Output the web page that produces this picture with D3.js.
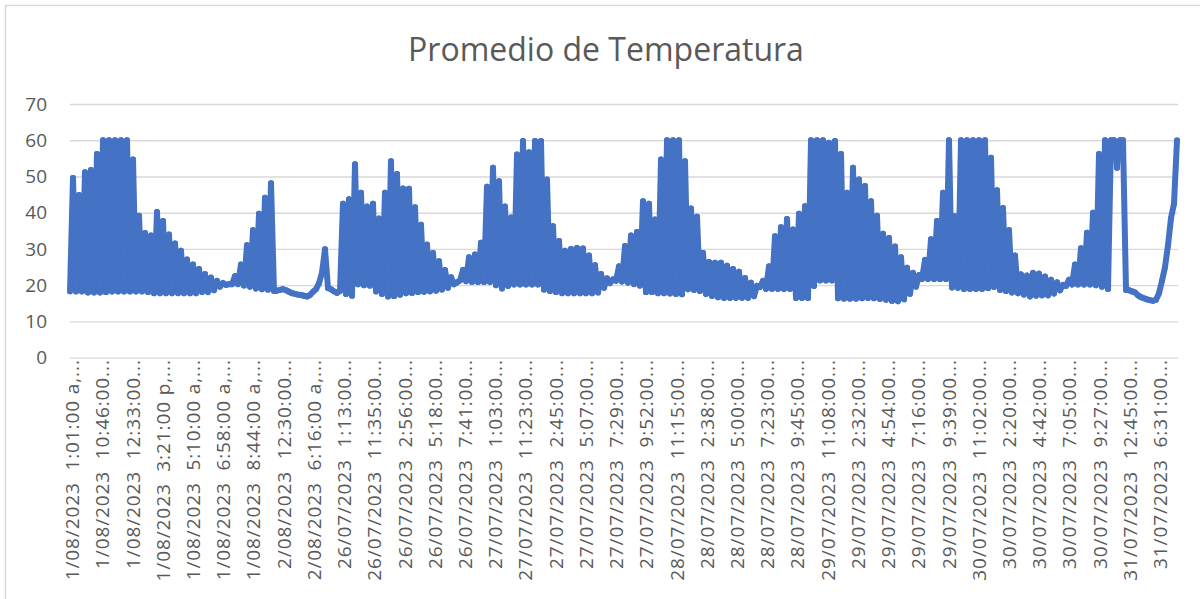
<!DOCTYPE html>
<html>
<head>
<meta charset="utf-8">
<script src="https://cdn.jsdelivr.net/npm/d3@7"></script>
<style>
  body { margin: 0; background: #fff; }
  text { font-family: 'Open Sans', sans-serif; fill: #595959; }
</style>
</head>
<body>
<div id="plot"></div>
<script>
    // Readings come in pairs: the category text sort puts a.m./p.m. rows next to each other,
    // so the series jumps between the two on every step
    const tempA = [
        18.3, 18.3, 18.3, 18.0, 18.0, 18.0, 18.1, 18.3, 18.3, 18.3,
        18.3, 18.3, 18.3, 18.1, 17.8, 17.8, 17.8, 17.8, 17.8, 17.8,
        17.8, 17.8, 18.1, 18.1, 18.6, 19.6, 20.1, 20.3, 20.3, 19.9,
        19.6, 19.1, 18.9, 18.8, 18.4, 18.7, 18.6, 17.8, 17.4, 17.1,
        17.3, 18.9, 23.5, 19.2, 18.3, 18.4, 17.6, 17.1, 20.3, 20.0,
        19.9, 18.3, 17.6, 16.9, 17.0, 17.4, 17.8, 17.9, 18.1, 18.2,
        18.3, 18.5, 18.8, 19.3, 20.3, 21.3, 21.1, 20.9, 20.9, 20.9,
        20.9, 20.0, 19.1, 19.8, 20.2, 20.2, 20.2, 20.2, 20.2, 18.8,
        18.4, 18.1, 17.8, 17.8, 17.8, 17.8, 17.8, 17.8, 18.0, 19.3,
        20.6, 21.2, 21.0, 20.7, 20.3, 19.9, 18.1, 18.1, 17.8, 17.8,
        17.7, 17.6, 17.5, 18.9, 18.7, 18.4, 17.6, 17.0, 16.7, 16.5,
        16.5, 16.5, 16.5, 16.5, 17.0, 19.5, 19.0, 19.0, 19.0, 19.0,
        19.0, 16.5, 16.5, 16.5, 19.8, 21.3, 21.3, 21.3, 16.4, 16.3,
        16.3, 16.3, 16.4, 16.5, 16.4, 16.2, 16.0, 15.7, 15.6, 16.1,
        17.6, 19.6, 21.7, 21.7, 21.7, 21.7, 21.7, 19.4, 19.3, 19.0,
        19.0, 19.0, 19.0, 19.2, 19.5, 18.7, 18.4, 18.0, 17.8, 17.4,
        16.9, 17.1, 17.2, 17.2, 17.7, 18.6, 19.8, 20.2, 20.2, 20.2,
        20.2, 20.0, 19.6, 19.0, 60.0, 60.0, 18.7, 18.3, 17.2, 16.4,
        15.9, 16.0, 21.2, 31.0, 42.5
    ];
    const tempB = [
        49.6, 44.9, 51.2, 51.8, 56.2, 60.0, 60.0, 60.0, 60.0, 60.0,
        54.7, 39.2, 34.4, 33.7, 40.2, 37.7, 34.0, 31.5, 29.5, 27.1,
        25.7, 24.5, 23.1, 22.1, 21.2, 20.6, 20.3, 22.5, 25.7, 31.0,
        35.2, 39.7, 44.1, 48.1, 18.5, 18.9, 18.2, 17.6, 17.3, 16.9,
        18.2, 20.5, 29.9, 18.9, 17.9, 42.5, 43.7, 53.4, 45.5, 41.7,
        42.5, 38.4, 45.5, 54.2, 50.7, 46.7, 46.6, 41.5, 36.7, 31.2,
        28.9, 26.6, 24.2, 22.2, 20.8, 24.2, 27.7, 28.5, 31.7, 47.2,
        52.4, 48.7, 41.7, 38.7, 56.1, 59.8, 56.7, 59.8, 59.8, 49.2,
        36.3, 32.2, 29.5, 30.0, 30.3, 30.1, 28.2, 25.5, 23.1, 21.9,
        21.6, 25.2, 30.8, 33.7, 34.7, 43.2, 42.5, 38.1, 54.7, 60.0,
        60.0, 60.0, 54.2, 41.2, 38.9, 28.9, 26.4, 26.2, 26.2, 25.4,
        24.5, 23.7, 22.0, 20.7, 19.8, 21.2, 25.2, 33.5, 36.0, 38.3,
        35.4, 39.7, 41.8, 60.0, 60.0, 60.0, 59.3, 59.8, 56.2, 45.5,
        52.4, 49.2, 47.4, 43.2, 39.2, 34.2, 33.0, 30.7, 27.7, 24.8,
        23.4, 22.8, 27.0, 32.7, 37.7, 45.5, 60.0, 39.0, 60.0, 60.0,
        60.0, 60.0, 60.0, 55.2, 46.2, 41.3, 35.2, 28.2, 23.0, 22.7,
        23.4, 23.2, 22.4, 21.5, 20.8, 20.1, 21.5, 25.7, 30.2, 34.5,
        40.0, 56.2, 60.0, 60.0, 52.4, 60.0, 18.6, 18.0, 16.7, 16.1,
        15.7, 17.8, 25.0, 38.5, 60.0
    ];

    // Category labels as Excel shows them (cut off with "...")
    const categoryLabels = [
        '1/08/2023  1:01:00 a,...', '1/08/2023  10:46:00...', '1/08/2023  12:33:00...',
        '1/08/2023  3:21:00 p,...', '1/08/2023  5:10:00 a,...', '1/08/2023  6:58:00 a,...',
        '1/08/2023  8:44:00 a,...', '2/08/2023  12:30:00...', '2/08/2023  6:16:00 a,...',
        '26/07/2023  1:13:00...', '26/07/2023  11:35:00...', '26/07/2023  2:56:00...',
        '26/07/2023  5:18:00...', '26/07/2023  7:41:00...', '27/07/2023  1:03:00...',
        '27/07/2023  11:23:00...', '27/07/2023  2:45:00...', '27/07/2023  5:07:00...',
        '27/07/2023  7:29:00...', '27/07/2023  9:52:00...', '28/07/2023  11:15:00...',
        '28/07/2023  2:38:00...', '28/07/2023  5:00:00...', '28/07/2023  7:23:00...',
        '28/07/2023  9:45:00...', '29/07/2023  11:08:00...', '29/07/2023  2:32:00...',
        '29/07/2023  4:54:00...', '29/07/2023  7:16:00...', '29/07/2023  9:39:00...',
        '30/07/2023  11:02:00...', '30/07/2023  2:20:00...', '30/07/2023  4:42:00...',
        '30/07/2023  7:05:00...', '30/07/2023  9:27:00...', '31/07/2023  12:45:00...',
        '31/07/2023  6:31:00...'
    ];
    const yTicks = [0, 10, 20, 30, 40, 50, 60, 70];

    // series in category order
    const temps = tempA.flatMap((a, i) => [a, tempB[i]]);

    // Set up the SVG container
    const svgWidth = 1200;
    const svgHeight = 599;
    const plot = { left: 70, right: 1178, top: 104, bottom: 357.7 };

    const svg = d3.select('#plot')
        .append('svg')
        .attr('width', svgWidth)
        .attr('height', svgHeight)
        .style('display', 'block');

    // chart frame (runs off the right and bottom of the picture)
    svg.append('rect')
        .attr('x', 5.5).attr('y', 5.5)
        .attr('width', 1400).attr('height', 800)
        .attr('fill', 'none')
        .attr('stroke', '#d9d9d9')
        .attr('stroke-width', 1.5);

    // Title
    svg.append('text')
        .attr('x', 606)
        .attr('y', 61)
        .attr('text-anchor', 'middle')
        .style('font-size', '32px')
        .text('Promedio de Temperatura');

    // Set up scales
    const xScale = d3.scaleLinear()
        .domain([0, temps.length - 1])
        .range([plot.left, 1177]);

    const yScale = d3.scaleLinear()
        .domain([0, 70])
        .range([plot.bottom, plot.top]);

    const labelScale = d3.scalePoint()
        .domain(categoryLabels)
        .range([72, 1160]);

    // y-axis with gridlines
    const yAxis = svg.append('g')
        .attr('class', 'y-axis')
        .attr('transform', `translate(${plot.left}, 0)`)
        .call(d3.axisLeft(yScale)
            .tickValues(yTicks)
            .tickSize(-(plot.right - plot.left))
            .tickPadding(23));
    yAxis.select('.domain').remove();
    yAxis.selectAll('line').attr('stroke', '#d9d9d9').attr('stroke-width', 1.3);
    yAxis.selectAll('text')
        .style('font-size', '19px')
        .attr('fill', '#595959');

    // x-axis labels, rotated
    const xAxis = svg.append('g')
        .attr('class', 'x-axis')
        .attr('transform', `translate(0, ${plot.bottom})`)
        .call(d3.axisBottom(labelScale).tickSize(0));
    xAxis.select('.domain').remove();
    xAxis.selectAll('text')
        .attr('transform', 'rotate(-90)')
        .attr('x', -1.5)
        .attr('y', 0)
        .attr('dy', '0.35em')
        .style('text-anchor', 'end')
        .style('font-size', '19px')
        .style('letter-spacing', '0.9px')
        .style('white-space', 'pre')
        .attr('fill', '#595959');

    // Temperature line, drawn step by step: one long zigzag path gets holes
    // from the stroker, separate round-capped segments don't
    const steps = d3.pairs(temps.map((v, i) => [i, v]));

    svg.append('g')
        .attr('class', 'temp-line')
        .selectAll('line')
        .data(steps)
        .enter()
        .append('line')
        .attr('x1', d => xScale(d[0][0]))
        .attr('y1', d => yScale(d[0][1]))
        .attr('x2', d => xScale(d[1][0]))
        .attr('y2', d => yScale(d[1][1]))
        .attr('stroke', '#4472c4')
        .attr('stroke-width', 6)
        .attr('stroke-linecap', 'round');
</script>
</body>
</html>
